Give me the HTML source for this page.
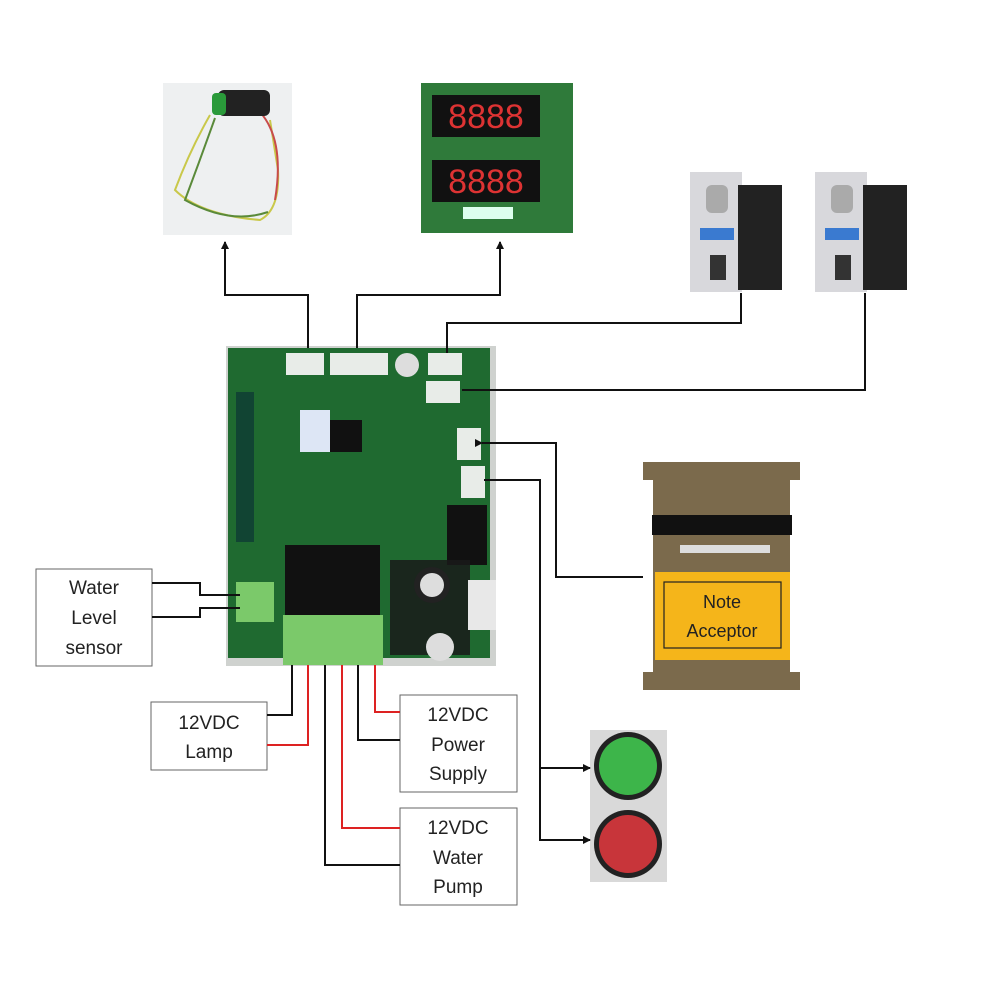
<!DOCTYPE html>
<html><head><style>
html,body{margin:0;padding:0;background:#fff;width:1000px;height:1000px;overflow:hidden}
svg{display:block}
text{font-family:"Liberation Sans",sans-serif}
</style></head><body>
<svg width="1000" height="1000" viewBox="0 0 1000 1000" xmlns="http://www.w3.org/2000/svg">
<defs><marker id="a" markerWidth="8" markerHeight="8" refX="7" refY="4" orient="auto" markerUnits="userSpaceOnUse"><path d="M0,0 L8,4 L0,8 z" fill="#111"/></marker></defs>
<!-- top-left photo -->
<rect x="163" y="83" width="129" height="152" fill="#eef0f1"/>
<path d="M210 115 Q190 150 175 190 Q200 215 260 220 Q280 210 278 170 L270 120" stroke="#c9c84a" stroke-width="2" fill="none"/>
<path d="M215 118 Q200 160 185 200 Q230 225 268 212" stroke="#5a8a3a" stroke-width="2" fill="none"/>
<path d="M260 112 Q285 140 275 200" stroke="#c84b4b" stroke-width="2" fill="none"/>
<rect x="218" y="90" width="52" height="26" rx="6" fill="#222"/>
<rect x="212" y="93" width="14" height="22" rx="4" fill="#2a9a3a"/>
<!-- display board -->
<rect x="421" y="83" width="152" height="150" fill="#2f7a3a"/>
<rect x="432" y="95" width="108" height="42" fill="#111"/>
<text x="486" y="128" font-size="34" fill="#d33" text-anchor="middle" font-family="Liberation Mono">8888</text>
<rect x="432" y="160" width="108" height="42" fill="#111"/>
<text x="486" y="193" font-size="34" fill="#d33" text-anchor="middle" font-family="Liberation Mono">8888</text>
<rect x="463" y="207" width="50" height="12" fill="#dfe"/>
<!-- coin acceptors -->
<g><rect x="690" y="172" width="52" height="120" fill="#d8d8dc"/><rect x="738" y="185" width="44" height="105" fill="#222"/><rect x="700" y="228" width="34" height="12" fill="#3a7ad0"/><rect x="706" y="185" width="22" height="28" rx="6" fill="#aaa"/><rect x="710" y="255" width="16" height="25" fill="#333"/></g>
<g><rect x="815" y="172" width="52" height="120" fill="#d8d8dc"/><rect x="863" y="185" width="44" height="105" fill="#222"/><rect x="825" y="228" width="34" height="12" fill="#3a7ad0"/><rect x="831" y="185" width="22" height="28" rx="6" fill="#aaa"/><rect x="835" y="255" width="16" height="25" fill="#333"/></g>
<!-- main board -->
<rect x="226" y="346" width="270" height="320" fill="#cfd2cf"/>
<rect x="228" y="348" width="262" height="310" fill="#1f6a30"/>
<rect x="286" y="353" width="38" height="22" fill="#e8ece8"/>
<rect x="330" y="353" width="58" height="22" fill="#e8ece8"/>
<rect x="428" y="353" width="34" height="22" fill="#e8ece8"/>
<rect x="426" y="381" width="34" height="22" fill="#e8ece8"/>
<rect x="457" y="428" width="24" height="32" fill="#e8ece8"/>
<rect x="461" y="466" width="24" height="32" fill="#e8ece8"/>
<circle cx="407" cy="365" r="12" fill="#ddd"/>
<rect x="300" y="410" width="30" height="42" fill="#dde6f5"/>
<rect x="330" y="420" width="32" height="32" fill="#111"/>
<rect x="236" y="392" width="18" height="150" fill="#143"/>
<rect x="285" y="545" width="95" height="70" fill="#111"/>
<rect x="447" y="505" width="40" height="60" fill="#111"/>
<rect x="390" y="560" width="80" height="95" fill="#1a1a1a" opacity=".85"/>
<circle cx="432" cy="585" r="18" fill="#222"/><circle cx="432" cy="585" r="12" fill="#ddd"/>
<circle cx="440" cy="647" r="14" fill="#ddd"/>
<rect x="236" y="582" width="38" height="40" fill="#7bc96a"/>
<rect x="283" y="615" width="100" height="50" fill="#7bc96a"/>
<rect x="468" y="580" width="28" height="50" fill="#e8e8e8"/>
<!-- note acceptor -->
<path d="M643 462 H800 V480 H790 V672 H800 V690 H643 V672 H653 V480 H643 Z" fill="#7b6a4c"/>
<rect x="652" y="515" width="140" height="20" fill="#111"/>
<rect x="680" y="545" width="90" height="8" fill="#ddd"/>
<rect x="655" y="572" width="135" height="88" fill="#f5b51a"/>
<rect x="664" y="582" width="117" height="66" fill="none" stroke="#222" stroke-width="1.2"/>
<text x="722" y="608" font-size="18" text-anchor="middle" fill="#222">Note</text>
<text x="722" y="637" font-size="18" text-anchor="middle" fill="#222">Acceptor</text>
<!-- lights -->
<rect x="590" y="730" width="77" height="152" fill="#d9d9d9"/>
<circle cx="628" cy="766" r="34" fill="#222"/><circle cx="628" cy="766" r="29" fill="#3db54a"/>
<circle cx="628" cy="844" r="34" fill="#222"/><circle cx="628" cy="844" r="29" fill="#c8353a"/>
<!-- boxes -->
<g fill="#fff" stroke="#666" stroke-width="1">
<rect x="36" y="569" width="116" height="97"/>
<rect x="151" y="702" width="116" height="68"/>
<rect x="400" y="695" width="117" height="97"/>
<rect x="400" y="808" width="117" height="97"/>
</g>
<g font-size="19" text-anchor="middle" fill="#222">
<text x="94" y="594">Water</text><text x="94" y="624">Level</text><text x="94" y="654">sensor</text>
<text x="209" y="729">12VDC</text><text x="209" y="758">Lamp</text>
<text x="458" y="721">12VDC</text><text x="458" y="751">Power</text><text x="458" y="780">Supply</text>
<text x="458" y="834">12VDC</text><text x="458" y="864">Water</text><text x="458" y="893">Pump</text>
</g>
<!-- connectors -->
<g fill="none" stroke="#111" stroke-width="2">
<path d="M308 348 V295 H225 V242" marker-end="url(#a)"/>
<path d="M357 348 V295 H500 V242" marker-end="url(#a)"/>
<path d="M447 353 V323 H741 V293"/>
<path d="M462 390 H865 V293"/>
<path d="M482 443 H556 V577 H643" marker-start="url(#a)"/>
<path d="M484 480 H540 V768 H590" marker-end="url(#a)"/>
<path d="M540 768 V840 H590" marker-end="url(#a)"/>
<path d="M152 583 H200 V595 H240"/>
<path d="M152 617 H200 V608 H240"/>
<path d="M292 665 V715 H267"/>
<path d="M358 665 V740 H400"/>
<path d="M325 665 V865 H400"/>
</g>
<g fill="none" stroke="#d22" stroke-width="2">
<path d="M308 665 V745 H267"/>
<path d="M375 665 V712 H400"/>
<path d="M342 665 V828 H400"/>
</g>
</svg>
</body></html>
